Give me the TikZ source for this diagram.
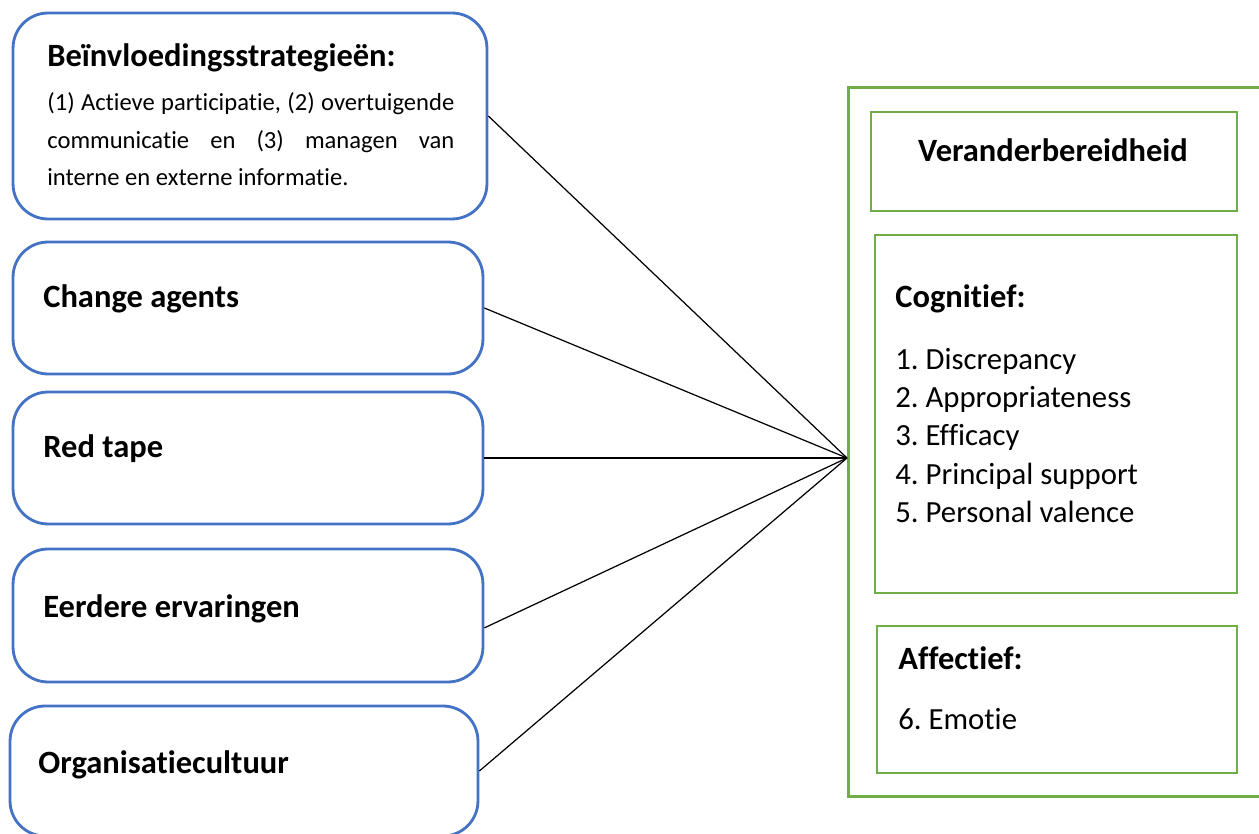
\documentclass[tikz,border=0pt]{standalone}
\usepackage{fontspec}
\setmainfont{Carlito}[Ligatures=NoCommon]
\definecolor{boxblue}{HTML}{4472C4}
\definecolor{boxgreen}{HTML}{70AD47}
\frenchspacing

\begin{document}
\begin{tikzpicture}[x=0.02cm,y=-0.02cm,
  factor/.style={draw=boxblue,line width=1.6pt,rounded corners=0.7cm,inner sep=0pt},
  outerbox/.style={draw=boxgreen,line width=1.7pt,inner sep=0pt},
  innerbox/.style={draw=boxgreen,line width=0.8pt,inner sep=0pt},
  head/.style={anchor=base west,inner sep=0pt,font=\fontsize{18.5}{22}\selectfont\bfseries},
  item/.style={anchor=base west,inner sep=0pt,font=\fontsize{17.5}{21}\selectfont}]
\useasboundingbox (0,0) rectangle (1259,834);
\node[factor,minimum width=9.48cm,minimum height=4.12cm] (strat) at (250,116) {};
\node[factor,minimum width=9.4cm,minimum height=2.64cm] (agents) at (248,308) {};
\node[factor,minimum width=9.4cm,minimum height=2.64cm] (tape) at (248,458) {};
\node[factor,minimum width=9.4cm,minimum height=2.66cm] (eerd) at (248,615.5) {};
\node[factor,minimum width=9.36cm,minimum height=2.6cm] (cult) at (244,771) {};
\node[head] (strattxt) at (47,67) {Beïnvloedingsstrategieën:};
\node[anchor=north west,inner sep=0pt,text width=8.14cm,align=justify,
  font=\fontsize{14}{21.5}\selectfont] (stratbody) at (47,92)
  {(1) Actieve participatie, (2) overtuigende\linebreak communicatie en (3) managen van\linebreak interne en externe informatie.};
\node[head] (agentstxt) at (43,308) {Change agents};
\node[head] (tapetxt) at (43,458) {Red tape};
\node[head] (eerdtxt) at (43,618) {Eerdere ervaringen};
\node[head] (culttxt) at (38,773) {Organisatiecultuur};
\node[outerbox,minimum width=8.6cm,minimum height=14.2cm] (ready) at (1063,442) {};
\node[innerbox,minimum width=7.32cm,minimum height=1.98cm] (readyhead) at (1054,161.5) {};
\node[innerbox,minimum width=7.24cm,minimum height=7.16cm] (cogn) at (1056,414) {};
\node[innerbox,minimum width=7.2cm,minimum height=2.94cm] (affe) at (1057,699.5) {};
\node[head,anchor=base] (readytxt) at (1053,162) {Veranderbereidheid};
\node[head] (cogntxt) at (895,308) {Cognitief:};
\node[item] (c1) at (895,370) {1. Discrepancy};
\node[item] (c2) at (895,408) {2. Appropriateness};
\node[item] (c3) at (895,446) {3. Efficacy};
\node[item] (c4) at (895,484.5) {4. Principal support};
\node[item] (c5) at (895,523) {5. Personal valence};
\node[head] (affetxt) at (898,670) {Affectief:};
\node[item] (a1) at (898,730) {6. Emotie};
\coordinate (hub) at (847,458);
\draw[line width=0.7pt] (strat.east) -- (hub);
\draw[line width=0.7pt] (agents.east) -- (hub);
\draw[line width=0.7pt] (tape.east) -- (hub);
\draw[line width=0.7pt] (eerd.-3) -- (hub);
\draw[line width=0.7pt] (cult.east) -- (hub);
\end{tikzpicture}
\end{document}
